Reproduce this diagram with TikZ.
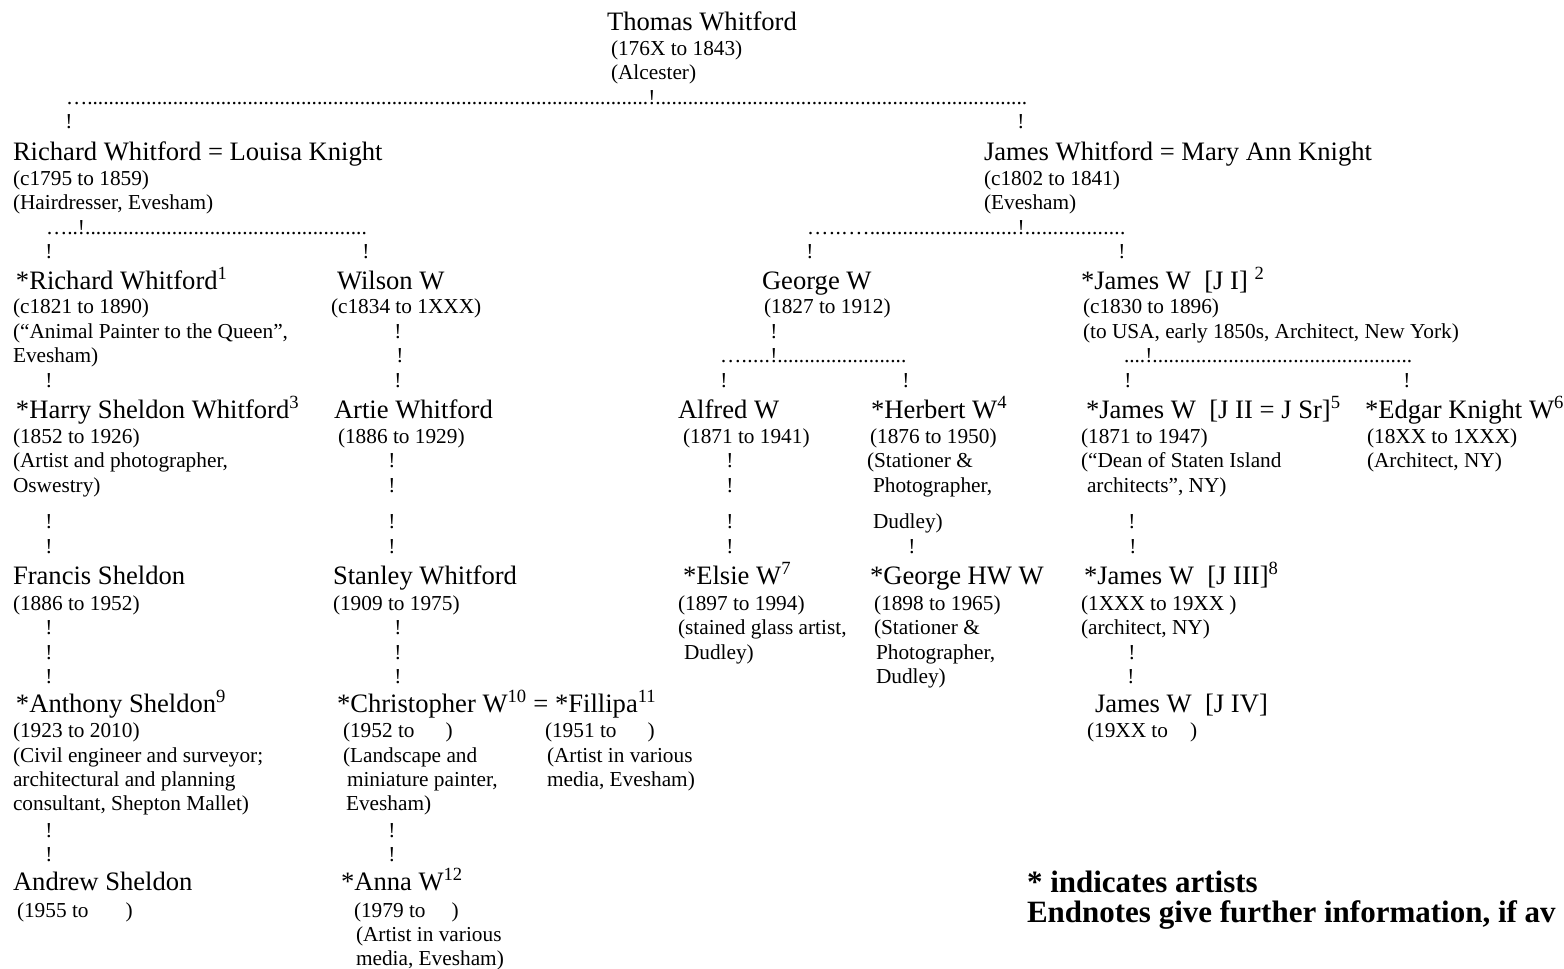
\documentclass[tikz,border=0pt]{standalone}
\usepackage{fontspec}
\setmainfont{Liberation Serif}
\newcommand{\drun}[1]{\hbox to #1pt{\xleaders\hbox{.}\hfill}}
\tikzset{
  nm/.style={anchor=base west, inner sep=0pt, outer sep=0pt, font=\fontsize{26.6}{30}\selectfont},
  inf/.style={anchor=base west, inner sep=0pt, outer sep=0pt, font=\fontsize{21.3}{24}\selectfont},
  bang/.style={anchor=base, inner sep=0pt, outer sep=0pt, font=\fontsize{21.3}{24}\selectfont},
  dotline/.style={anchor=base west, inner sep=0pt, outer sep=0pt, font=\fontsize{21.3}{24}\selectfont},
  legend/.style={anchor=base west, inner sep=0pt, outer sep=0pt, font=\fontsize{31}{34}\selectfont\bfseries},
}
\begin{document}
\begin{tikzpicture}[x=1pt,y=-1pt]
\fill[white] (0,0) rectangle (1564,969);
\useasboundingbox (0,0) rectangle (1564,969);

% generation 0
\node[nm]  (thomas)  at (607,30)   {Thomas Whitford};
\node[inf] (thomasA) at (611,55)   {(176X to 1843)};
\node[inf] (thomasB) at (611,79.5) {(Alcester)};
\node[dotline] (d0) at (66,104) {…\drun{561}!\drun{372}};

% generation 1
\node[nm]  (richard)  at (13,160)    {Richard Whitford = Louisa Knight};
\node[inf] (richardA) at (13,185)    {(c1795 to 1859)};
\node[inf] (richardB) at (13,209.5)  {(Hairdresser, Evesham)};
\node[dotline] (d1l) at (46,234) {…..!\drun{282}};

\node[nm]  (james)  at (984,160)   {James Whitford = Mary Ann Knight};
\node[inf] (jamesA) at (984,185)   {(c1802 to 1841)};
\node[inf] (jamesB) at (984,209.5) {(Evesham)};
\node[dotline] (d1r) at (807,234) {…\drun{20}…\drun{148}!\drun{101}};

% generation 2
\node[nm]  (richard2)  at (16,289)   {*Richard Whitford\textsuperscript{1}};
\node[inf] (richard2A) at (13,313.5) {(c1821 to 1890)};
\node[inf] (richard2B) at (13,338)   {(“Animal Painter to the Queen”,};
\node[inf] (richard2C) at (13,362.5) {Evesham)};

\node[nm]  (wilson)  at (337,289)   {Wilson W};
\node[inf] (wilsonA) at (331,313.5) {(c1834 to 1XXX)};

\node[nm]  (george)  at (762,289)   {George W};
\node[inf] (georgeA) at (764,313.5) {(1827 to 1912)};
\node[dotline] (d2g) at (720,362.5) {…\drun{29}!\drun{129}};

\node[nm]  (jamesI)  at (1081,289)   {*James W\ \ [J I]\ \textsuperscript{2}};
\node[inf] (jamesIA) at (1083,313.5) {(c1830 to 1896)};
\node[inf] (jamesIB) at (1083,338)   {(to USA, early 1850s, Architect, New York)};
\node[dotline] (d2j) at (1124,362.5) {....!\drun{260}};

% generation 3
\node[nm]  (harry)  at (16,418)   {*Harry Sheldon Whitford\textsuperscript{3}};
\node[inf] (harryA) at (13,443)   {(1852 to 1926)};
\node[inf] (harryB) at (13,467.5) {(Artist and photographer,};
\node[inf] (harryC) at (13,492)   {Oswestry)};

\node[nm]  (artie)  at (334,418) {Artie Whitford};
\node[inf] (artieA) at (338,443) {(1886 to 1929)};

\node[nm]  (alfred)  at (678,418) {Alfred W};
\node[inf] (alfredA) at (683,443) {(1871 to 1941)};

\node[nm]  (herbert)  at (871,418)   {*Herbert W\textsuperscript{4}};
\node[inf] (herbertA) at (870,443)   {(1876 to 1950)};
\node[inf] (herbertB) at (867,467.5) {(Stationer \&};
\node[inf] (herbertC) at (873,492)   {Photographer,};
\node[inf] (herbertD) at (873,528)   {Dudley)};

\node[nm]  (jamesII)  at (1086,418)   {*James W\ \ [J II = J Sr]\textsuperscript{5}};
\node[inf] (jamesIIA) at (1081,443)   {(1871 to 1947)};
\node[inf] (jamesIIB) at (1081,467.5) {(“Dean of Staten Island};
\node[inf] (jamesIIC) at (1087,492)   {architects”, NY)};

\node[nm]  (edgar)  at (1365,418)   {*Edgar Knight W\textsuperscript{6}};
\node[inf] (edgarA) at (1367,443)   {(18XX to 1XXX)};
\node[inf] (edgarB) at (1367,467.5) {(Architect, NY)};

% generation 4
\node[nm]  (francis)  at (13,584) {Francis Sheldon};
\node[inf] (francisA) at (13,610) {(1886 to 1952)};

\node[nm]  (stanley)  at (333,584) {Stanley Whitford};
\node[inf] (stanleyA) at (333,610) {(1909 to 1975)};

\node[nm]  (elsie)  at (683,584)   {*Elsie W\textsuperscript{7}};
\node[inf] (elsieA) at (678,610)   {(1897 to 1994)};
\node[inf] (elsieB) at (678,634.5) {(stained glass artist,};
\node[inf] (elsieC) at (684,659)   {Dudley)};

\node[nm]  (georgeHW)  at (870,584)   {*George HW W};
\node[inf] (georgeHWA) at (874,610)   {(1898 to 1965)};
\node[inf] (georgeHWB) at (874,634.5) {(Stationer \&};
\node[inf] (georgeHWC) at (876,659)   {Photographer,};
\node[inf] (georgeHWD) at (876,683.5) {Dudley)};

\node[nm]  (jamesIII)  at (1084,584)   {*James W\ \ [J III]\textsuperscript{8}};
\node[inf] (jamesIIIA) at (1081,610)   {(1XXX to 19XX\ )};
\node[inf] (jamesIIIB) at (1081,634.5) {(architect, NY)};

% generation 5
\node[nm]  (anthony)  at (16,712) {*Anthony Sheldon\textsuperscript{9}};
\node[inf] (anthonyA) at (13,737) {(1923 to 2010)};
\node[inf] (anthonyB) at (13,762) {(Civil engineer and surveyor;};
\node[inf] (anthonyC) at (13,786) {architectural and planning};
\node[inf] (anthonyD) at (13,810) {consultant, Shepton Mallet)};

\node[nm]  (chris)  at (337,712) {*Christopher W\textsuperscript{10} = *Fillipa\textsuperscript{11}};
\node[inf] (chrisA) at (343,737) {(1952 to\hspace{31pt})};
\node[inf] (chrisB) at (343,762) {(Landscape and};
\node[inf] (chrisC) at (347,786) {miniature painter,};
\node[inf] (chrisD) at (346,810) {Evesham)};

\node[inf] (fillipaA) at (545,737) {(1951 to\hspace{31pt})};
\node[inf] (fillipaB) at (547,762) {(Artist in various};
\node[inf] (fillipaC) at (547,786) {media, Evesham)};

\node[nm]  (jamesIV)  at (1095,712) {James W\ \ [J IV]};
\node[inf] (jamesIVA) at (1087,737) {(19XX to\hspace{22pt})};

% generation 6
\node[nm]  (andrew)  at (13,890) {Andrew Sheldon};
\node[inf] (andrewA) at (17,917) {(1955 to\hspace{37pt})};

\node[nm]  (anna)  at (341,890) {*Anna W\textsuperscript{12}};
\node[inf] (annaA) at (354,917) {(1979 to\hspace{26pt})};
\node[inf] (annaB) at (356,941) {(Artist in various};
\node[inf] (annaC) at (356,965) {media, Evesham)};

% legend
\node[legend, text depth=0pt] (leg1) at (1027,892) {* indicates artists};
\node[legend, text height=21pt] (leg2) at (1027,922) {Endnotes give further information, if av};

% connector marks
\foreach \n/\x/\y in {
  b01/69/128.5, b02/1021/128.5,
  b03/49/258.5, b04/366/258.5, b05/810/258.5, b06/1122/258.5,
  b07/398/338, b08/774/338,
  b09/400/362.5,
  b10/49/387, b11/398/387, b12/724/387, b13/906/387, b14/1128/387, b15/1407/387,
  b16/392/467.5, b17/730/467.5,
  b18/392/492, b19/730/492,
  b20/49/528, b21/392/528, b22/730/528, b23/1132/528,
  b24/49/553, b25/392/553, b26/730/553, b27/912/553, b28/1133/553,
  b29/49/634.5, b30/398/634.5,
  b31/49/659, b32/398/659, b33/1132/659,
  b34/49/683.5, b35/398/683.5, b36/1131/683.5,
  b37/49/837, b38/392/837,
  b39/49/861, b40/392/861}
  \node[bang] (\n) at (\x,\y) {!};
\end{tikzpicture}
\end{document}
